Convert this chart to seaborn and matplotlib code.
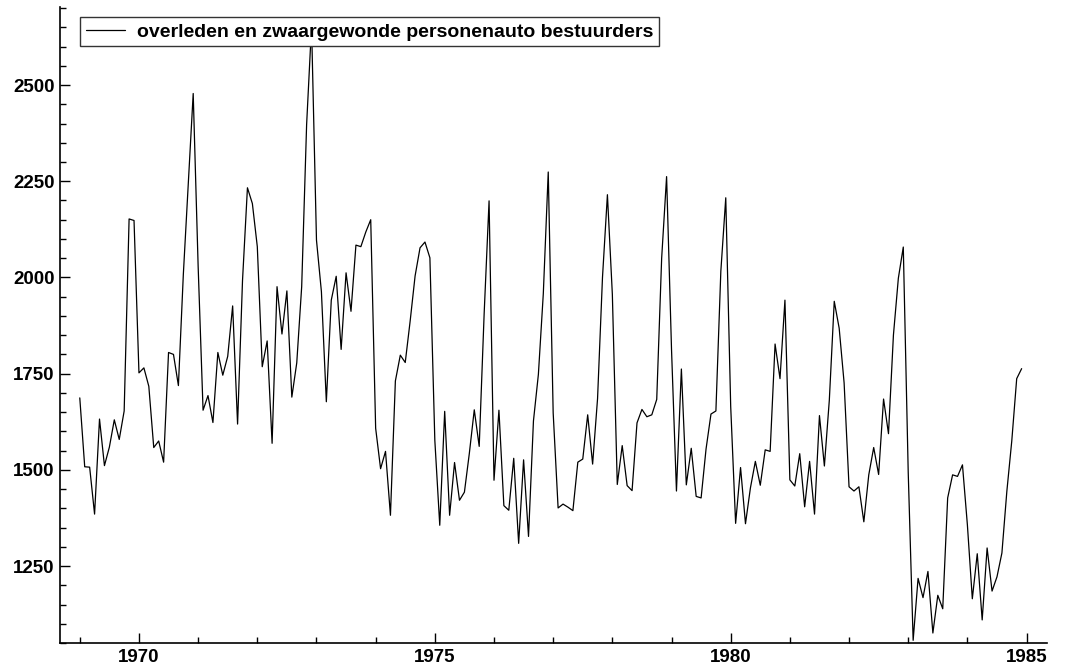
import numpy as np
import pandas as pd
import matplotlib
matplotlib.use("Agg")
import matplotlib.pyplot as plt
import seaborn as sns
from matplotlib.ticker import MultipleLocator

# UK car drivers killed or seriously injured, monthly, Jan 1969 - Dec 1984
start_year = 1969
values_1969 = [1687, 1508, 1507, 1385, 1632, 1511, 1559, 1630, 1579, 1653, 2152, 2148]
values_1970 = [1752, 1765, 1717, 1558, 1575, 1520, 1805, 1800, 1719, 2008, 2242, 2478]
values_1971 = [2030, 1655, 1693, 1623, 1805, 1746, 1795, 1926, 1619, 1992, 2233, 2192]
values_1972 = [2080, 1768, 1835, 1569, 1976, 1853, 1965, 1689, 1778, 1976, 2397, 2654]
values_1973 = [2097, 1963, 1677, 1941, 2003, 1813, 2012, 1912, 2084, 2080, 2118, 2150]
values_1974 = [1608, 1503, 1548, 1382, 1731, 1798, 1779, 1887, 2004, 2077, 2092, 2051]
values_1975 = [1577, 1356, 1652, 1382, 1519, 1421, 1442, 1543, 1656, 1561, 1905, 2199]
values_1976 = [1473, 1655, 1407, 1395, 1530, 1309, 1526, 1327, 1627, 1748, 1958, 2274]
values_1977 = [1648, 1401, 1411, 1403, 1394, 1520, 1528, 1643, 1515, 1685, 2000, 2215]
values_1978 = [1956, 1462, 1563, 1459, 1446, 1622, 1657, 1638, 1643, 1683, 2050, 2262]
values_1979 = [1813, 1445, 1762, 1461, 1556, 1431, 1427, 1554, 1645, 1653, 2016, 2207]
values_1980 = [1665, 1361, 1506, 1360, 1453, 1522, 1460, 1552, 1548, 1827, 1737, 1941]
values_1981 = [1474, 1458, 1542, 1404, 1522, 1385, 1641, 1510, 1681, 1938, 1868, 1726]
values_1982 = [1456, 1445, 1456, 1365, 1487, 1558, 1488, 1684, 1594, 1850, 1998, 2079]
values_1983 = [1494, 1057, 1218, 1168, 1236, 1076, 1174, 1139, 1427, 1487, 1483, 1513]
values_1984 = [1357, 1165, 1282, 1110, 1297, 1185, 1222, 1284, 1444, 1575, 1737, 1763]

series_label = "overleden en zwaargewonde personenauto bestuurders"
x_tick_labels = ["1970", "1975", "1980", "1985"]

all_values = (values_1969 + values_1970 + values_1971 + values_1972 + values_1973 +
              values_1974 + values_1975 + values_1976 + values_1977 + values_1978 +
              values_1979 + values_1980 + values_1981 + values_1982 + values_1983 +
              values_1984)
time = start_year + np.arange(len(all_values)) / 12.0
df = pd.DataFrame({"time": time, "value": all_values})

sns.set_style("white")
plt.rcParams["font.family"] = ["Liberation Sans", "DejaVu Sans"]
plt.rcParams["text.color"] = "black"
plt.rcParams["xtick.color"] = "black"
plt.rcParams["ytick.color"] = "black"

fig = plt.figure(figsize=(10.65, 6.71), dpi=100)
ax = fig.add_axes([0.0563, 0.0417, 0.9265, 0.948])

sns.lineplot(data=df, x="time", y="value", ax=ax, color="black", linewidth=0.9,
             label=series_label)

ax.set_xlim(1968.665, 1985.34)
ax.set_ylim(1050, 2703)
ax.set_xlabel("")
ax.set_ylabel("")

ax.xaxis.set_major_locator(MultipleLocator(5))
ax.xaxis.set_minor_locator(MultipleLocator(1))
ax.yaxis.set_major_locator(MultipleLocator(250))
ax.yaxis.set_minor_locator(MultipleLocator(50))
ax.set_xticks([int(t) for t in x_tick_labels])
ax.set_xticklabels(x_tick_labels)

ax.tick_params(axis="both", which="both", bottom=True, left=True, top=False, right=False)
ax.tick_params(axis="both", which="major", direction="in", length=7, width=1,
               labelsize=13.5, color="black", labelcolor="black", pad=4)
ax.tick_params(axis="both", which="minor", direction="in", length=4, width=1,
               color="black")
for lab in ax.get_xticklabels() + ax.get_yticklabels():
    lab.set_fontweight("bold")

for side in ["top", "right"]:
    ax.spines[side].set_visible(False)
for side in ["left", "bottom"]:
    ax.spines[side].set_color("black")
    ax.spines[side].set_linewidth(1.2)

leg = ax.legend(loc="upper left", bbox_to_anchor=(0.0205, 0.984), frameon=True,
                fancybox=False, framealpha=1, edgecolor="#333333",
                prop={"size": 14, "weight": "bold"}, handlelength=2.0,
                handletextpad=0.6, borderpad=0.3, borderaxespad=0)
leg.get_frame().set_linewidth(1.0)
for t in leg.get_texts():
    t.set_color("black")

fig.savefig("out.png", dpi=100)
